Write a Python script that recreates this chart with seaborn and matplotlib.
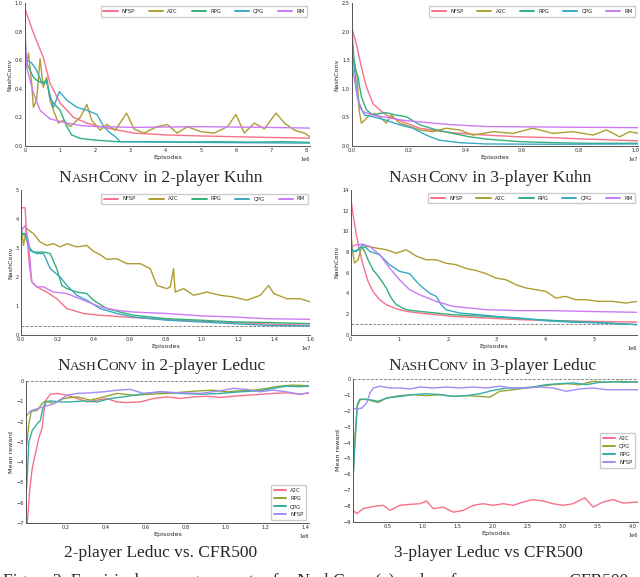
import matplotlib
matplotlib.use("Agg")
import matplotlib.pyplot as plt
from matplotlib.offsetbox import TextArea, HPacker, AnnotationBbox
from matplotlib.ticker import MultipleLocator
import seaborn as sns
import numpy as np
import pandas as pd

# ---------------- 2-player Kuhn NashConv (x in 1e6 episodes) ----------------
k2_nfsp_x = [0, 0.24, 0.52, 0.71, 1.0, 1.38, 1.76, 2.14, 3.10, 4.05, 5.0, 5.95, 6.90, 8.1]
k2_nfsp_y = [0.96, 0.79, 0.62, 0.44, 0.30, 0.20, 0.16, 0.135, 0.09, 0.077, 0.07, 0.065, 0.06, 0.055]
k2_a2c_x = [0, 0.03, 0.10, 0.19, 0.24, 0.33, 0.43, 0.52, 0.62, 0.71, 0.81, 0.95, 1.10, 1.29, 1.57,
            1.76, 1.90, 2.14, 2.33, 2.57, 2.89, 3.10, 3.38, 3.76, 4.05, 4.33, 4.62, 5.0, 5.38, 5.76,
            6.0, 6.24, 6.52, 6.81, 7.14, 7.38, 7.67, 7.95, 8.1]
k2_a2c_y = [0.6, 0.55, 0.65, 0.44, 0.27, 0.32, 0.61, 0.41, 0.48, 0.32, 0.25, 0.16, 0.18, 0.135, 0.20,
            0.29, 0.18, 0.11, 0.15, 0.11, 0.23, 0.12, 0.09, 0.135, 0.15, 0.09, 0.135, 0.10, 0.09, 0.135,
            0.22, 0.09, 0.16, 0.12, 0.23, 0.16, 0.11, 0.09, 0.065]
k2_rpg_x = [0, 0.03, 0.05, 0.24, 0.33, 0.48, 0.62, 0.71, 0.81, 1.0, 1.19, 1.33, 1.57, 1.95, 2.62,
            3.57, 4.52, 5.48, 6.43, 7.38, 8.1]
k2_rpg_y = [0.90, 0.60, 0.58, 0.48, 0.46, 0.44, 0.46, 0.34, 0.30, 0.25, 0.135, 0.077, 0.053, 0.042, 0.03,
            0.03, 0.028, 0.03, 0.027, 0.03, 0.025]
k2_qpg_x = [0, 0.05, 0.19, 0.33, 0.48, 0.62, 0.81, 0.98, 1.19, 1.48, 1.76, 2.05, 2.24, 2.43, 2.57,
            2.71, 3.57, 5.0, 6.90, 8.1]
k2_qpg_y = [0.65, 0.60, 0.58, 0.53, 0.44, 0.44, 0.27, 0.38, 0.32, 0.27, 0.25, 0.22, 0.135, 0.09, 0.065,
            0.03, 0.028, 0.025, 0.022, 0.02]
k2_rm_x = [0, 0.05, 0.24, 0.43, 0.71, 1.19, 1.67, 2.14, 3.10, 5.0, 6.90, 8.1]
k2_rm_y = [0.78, 0.55, 0.37, 0.25, 0.19, 0.16, 0.14, 0.135, 0.13, 0.135, 0.13, 0.125]

# ---------------- 3-player Kuhn NashConv (x in 1e7 episodes) ----------------
k3_nfsp_x = [0, 0.015, 0.033, 0.051, 0.074, 0.098, 0.121, 0.18, 0.239, 0.356, 0.474, 0.592, 0.709, 0.827, 1.01]
k3_nfsp_y = [2.05, 1.79, 1.38, 1.03, 0.74, 0.63, 0.54, 0.42, 0.31, 0.23, 0.19, 0.16, 0.145, 0.12, 0.09]
k3_a2c_x = [0.004, 0.009, 0.018, 0.025, 0.033, 0.045, 0.062, 0.08, 0.104, 0.121, 0.139, 0.168, 0.204,
            0.239, 0.286, 0.333, 0.38, 0.427, 0.498, 0.568, 0.639, 0.709, 0.78, 0.851, 0.898, 0.945,
            0.98, 1.01]
k3_a2c_y = [1.45, 1.47, 1.21, 0.63, 0.40, 0.45, 0.54, 0.57, 0.48, 0.40, 0.54, 0.40, 0.34,
            0.28, 0.25, 0.31, 0.28, 0.19, 0.25, 0.22, 0.31, 0.22, 0.25, 0.19, 0.28, 0.16,
            0.25, 0.22]
k3_rpg_x = [0, 0.009, 0.021, 0.033, 0.051, 0.074, 0.098, 0.121, 0.156, 0.192, 0.239, 0.298, 0.356,
            0.415, 0.474, 0.592, 0.709, 0.827, 1.01]
k3_rpg_y = [2.0, 1.38, 1.21, 0.86, 0.63, 0.54, 0.57, 0.58, 0.54, 0.51, 0.37, 0.28, 0.22,
            0.16, 0.12, 0.076, 0.058, 0.047, 0.047]
k3_qpg_x = [0, 0.007, 0.015, 0.027, 0.045, 0.074, 0.121, 0.168, 0.215, 0.262, 0.309, 0.38, 0.474, 0.709, 1.01]
k3_qpg_y = [1.75, 1.44, 1.03, 0.69, 0.54, 0.51, 0.45, 0.37, 0.31, 0.19, 0.10, 0.058, 0.035, 0.03, 0.035]
k3_rm_x = [0, 0.009, 0.021, 0.039, 0.074, 0.121, 0.18, 0.239, 0.356, 0.474, 0.709, 1.01]
k3_rm_y = [1.45, 1.15, 0.80, 0.60, 0.54, 0.50, 0.45, 0.42, 0.37, 0.34, 0.33, 0.32]

# ---------------- 2-player Leduc NashConv (x in 1e7 episodes) ----------------
l2_nfsp_x = [0, 0.022, 0.031, 0.046, 0.059, 0.087, 0.142, 0.197, 0.253, 0.345, 0.437, 0.622, 0.806,
             0.991, 1.175, 1.36, 1.6]
l2_nfsp_y = [4.4, 4.4, 3.45, 2.41, 1.84, 1.67, 1.49, 1.26, 0.92, 0.75, 0.69, 0.61, 0.54,
             0.48, 0.44, 0.39, 0.34]
l2_a2c_x = [0, 0.013, 0.031, 0.068, 0.105, 0.142, 0.179, 0.216, 0.253, 0.308, 0.363, 0.4, 0.437,
            0.474, 0.53, 0.585, 0.659, 0.714, 0.751, 0.806, 0.825, 0.843, 0.852, 0.899, 0.954, 1.028,
            1.101, 1.175, 1.249, 1.323, 1.369, 1.397, 1.47, 1.544, 1.6]
l2_a2c_y = [3.79, 3.10, 3.68, 3.51, 3.22, 3.10, 3.16, 3.05, 3.16, 3.05, 3.10, 2.90, 2.78,
            2.62, 2.64, 2.47, 2.47, 2.30, 1.72, 1.61, 1.67, 2.30, 1.49, 1.61, 1.38, 1.49,
            1.38, 1.32, 1.21, 1.38, 1.72, 1.44, 1.26, 1.26, 1.15]
l2_rpg_x = [0, 0.022, 0.05, 0.068, 0.124, 0.161, 0.197, 0.225, 0.253, 0.308, 0.363, 0.4, 0.474,
            0.548, 0.622, 0.806, 0.991, 1.175, 1.36, 1.6]
l2_rpg_y = [3.5, 3.51, 2.99, 2.87, 2.87, 2.82, 2.30, 1.72, 1.61, 1.49, 1.44, 1.21, 0.92,
            0.80, 0.69, 0.57, 0.52, 0.46, 0.44, 0.40]
l2_qpg_x = [0, 0.022, 0.05, 0.087, 0.124, 0.161, 0.216, 0.253, 0.308, 0.363, 0.437, 0.53, 0.622,
            0.806, 0.991, 1.175, 1.36, 1.6]
l2_qpg_y = [3.5, 3.45, 2.93, 2.82, 2.82, 2.30, 2.01, 1.72, 1.38, 1.21, 0.92, 0.75, 0.63,
            0.52, 0.46, 0.40, 0.34, 0.32]
l2_rm_x = [0, 0.022, 0.041, 0.059, 0.087, 0.124, 0.179, 0.253, 0.345, 0.437, 0.53, 0.622, 0.806,
           0.991, 1.175, 1.36, 1.6]
l2_rm_y = [3.6, 3.79, 3.22, 1.84, 1.67, 1.67, 1.49, 1.44, 1.21, 0.98, 0.86, 0.80, 0.75,
           0.67, 0.63, 0.57, 0.55]
l2_ref = 0.31

# ---------------- 3-player Leduc NashConv (x in 1e6 episodes) ----------------
l3_nfsp_x = [0, 0.048, 0.116, 0.185, 0.253, 0.356, 0.458, 0.595, 0.732, 0.937, 1.142, 1.416, 2.1,
             2.784, 3.468, 4.152, 4.836, 5.896]
l3_nfsp_y = [13.3, 11.6, 9.66, 8.05, 6.76, 5.15, 4.18, 3.38, 2.90, 2.51, 2.25, 2.09, 1.77,
             1.61, 1.45, 1.35, 1.29, 1.22]
l3_a2c_x = [0, 0.048, 0.082, 0.150, 0.219, 0.356, 0.527, 0.732, 0.937, 1.142, 1.347, 1.553, 1.758,
            1.963, 2.168, 2.373, 2.579, 2.784, 2.989, 3.194, 3.399, 3.605, 3.810, 4.015, 4.220, 4.425,
            4.631, 4.836, 5.109, 5.383, 5.657, 5.896]
l3_a2c_y = [10.0, 7.73, 6.92, 7.24, 8.37, 8.53, 8.37, 8.21, 7.88, 8.21, 7.6, 7.24, 7.24,
            6.9, 6.76, 6.40, 6.20, 5.9, 5.47, 5.31, 4.83, 4.51, 4.35, 4.18, 3.54, 3.70,
            3.38, 3.38, 3.22, 3.22, 3.06, 3.22]
l3_rpg_x = [0, 0.048, 0.116, 0.219, 0.287, 0.356, 0.458, 0.595, 0.732, 0.834, 0.937, 1.142, 1.416,
            2.1, 2.784, 3.468, 4.152, 4.836, 5.896]
l3_rpg_y = [8.5, 8.05, 8.05, 8.53, 8.05, 7.24, 6.28, 5.47, 4.51, 3.54, 2.90, 2.41, 2.25,
            1.93, 1.77, 1.55, 1.38, 1.22, 0.97]
l3_qpg_x = [0, 0.048, 0.150, 0.253, 0.390, 0.595, 0.800, 1.005, 1.211, 1.416, 1.621, 1.758, 1.860,
            1.963, 2.237, 2.647, 2.989, 3.468, 4.015, 4.494, 5.178, 5.896]
l3_qpg_y = [8.2, 8.05, 8.21, 8.69, 8.05, 7.73, 6.76, 6.12, 5.9, 4.8, 4.02, 3.70, 2.90,
            2.41, 2.09, 1.93, 1.77, 1.61, 1.35, 1.22, 1.13, 0.97]
l3_rm_x = [0, 0.116, 0.253, 0.390, 0.595, 0.800, 1.005, 1.211, 1.416, 1.758, 2.1, 2.784, 3.468,
           4.152, 4.836, 5.896]
l3_rm_y = [8.5, 8.69, 8.75, 8.53, 7.73, 6.44, 5.3, 4.35, 3.86, 3.22, 2.74, 2.41, 2.32,
           2.32, 2.25, 2.16]
l3_ref = 1.03

# ---------------- 2-player Leduc vs CFR500 (x in 1e6 episodes) ----------------
c2_a2c_x = [0.009, 0.022, 0.034, 0.067, 0.084, 0.092, 0.105, 0.125, 0.158, 0.208, 0.258, 0.308, 0.358,
            0.407, 0.457, 0.507, 0.573, 0.64, 0.706, 0.772, 0.839, 0.905, 0.972, 1.038, 1.104,
            1.171, 1.237, 1.304, 1.37, 1.416]
c2_a2c_y = [-7.0, -5.3, -4.3, -2.8, -2.3, -1.5, -0.9, -0.65, -0.61, -0.70, -0.86, -1.03, -0.94,
            -0.86, -1.03, -1.06, -1.03, -0.86, -0.78, -0.86, -0.78, -0.75, -0.81, -0.75, -0.70,
            -0.66, -0.61, -0.58, -0.65, -0.58]
c2_rpg_x = [0.006, 0.017, 0.029, 0.059, 0.084, 0.1, 0.142, 0.191, 0.258, 0.324, 0.391, 0.457, 0.54,
            0.623, 0.706, 0.806, 0.872, 0.939, 1.005, 1.071, 1.138, 1.204, 1.27, 1.337, 1.416]
c2_rpg_y = [-3.2, -2.1, -1.5, -1.44, -1.1, -0.98, -1.11, -0.86, -0.78, -0.94, -0.78, -0.61, -0.70,
            -0.65, -0.61, -0.53, -0.48, -0.45, -0.53, -0.48, -0.45, -0.36, -0.25, -0.20, -0.23]
c2_qpg_x = [0.006, 0.017, 0.034, 0.059, 0.075, 0.084, 0.1, 0.125, 0.175, 0.225, 0.291, 0.358, 0.424,
            0.49, 0.573, 0.673, 0.772, 0.872, 0.972, 1.071, 1.171, 1.237, 1.304, 1.37, 1.416]
c2_qpg_y = [-5.3, -3.01, -2.43, -2.10, -1.94, -1.44, -1.03, -0.98, -1.03, -1.03, -0.98, -1.03, -0.86,
            -0.78, -0.65, -0.53, -0.61, -0.65, -0.61, -0.53, -0.48, -0.36, -0.25, -0.28, -0.25]
c2_nfsp_x = [0.006, 0.026, 0.059, 0.092, 0.142, 0.208, 0.258, 0.324, 0.391, 0.457, 0.523, 0.59, 0.673,
             0.772, 0.872, 0.972, 1.038, 1.104, 1.171, 1.237, 1.304, 1.37, 1.416]
c2_nfsp_y = [-1.7, -1.47, -1.36, -1.27, -1.11, -0.70, -0.61, -0.58, -0.53, -0.45, -0.41, -0.61, -0.53,
             -0.58, -0.61, -0.48, -0.36, -0.41, -0.53, -0.45, -0.53, -0.65, -0.58]

# ---------------- 3-player Leduc vs CFR500 (x in 1e6 episodes) ----------------
c3_a2c_x = [0.011, 0.058, 0.153, 0.296, 0.438, 0.533, 0.676, 0.818, 0.961, 1.056, 1.151, 1.293, 1.436,
            1.578, 1.721, 1.863, 2.006, 2.148, 2.29, 2.433, 2.575, 2.718, 2.86, 3.003, 3.145, 3.311,
            3.43, 3.572, 3.715, 3.857, 4.071]
c3_a2c_y = [-8.27, -8.48, -8.16, -8.02, -7.95, -8.27, -7.95, -7.89, -7.85, -7.68, -8.16, -8.06, -8.38,
            -8.27, -7.95, -7.85, -7.95, -7.85, -7.95, -7.74, -7.59, -7.68, -7.85, -7.95, -7.85, -7.47,
            -8.06, -7.74, -7.59, -7.81, -7.74]
c3_qpg_x = [0.011, 0.035, 0.068, 0.106, 0.201, 0.296, 0.367, 0.486, 0.676, 0.866, 1.056, 1.246, 1.436,
            1.625, 1.815, 1.958, 2.1, 2.29, 2.48, 2.67, 2.86, 3.05, 3.24, 3.43, 3.62, 3.81, 4.071]
c3_qpg_y = [-6.0, -3.63, -1.73, -1.31, -1.27, -1.41, -1.48, -1.20, -1.05, -0.99, -1.05, -0.99, -1.10,
            -1.05, -1.10, -1.14, -0.78, -0.68, -0.57, -0.46, -0.36, -0.30, -0.36, -0.15, -0.21, -0.15, -0.21]
c3_rpg_x = [0.011, 0.035, 0.068, 0.106, 0.249, 0.367, 0.486, 0.676, 0.866, 1.056, 1.246, 1.436, 1.625,
            1.815, 2.006, 2.195, 2.385, 2.575, 2.765, 2.955, 3.145, 3.335, 3.525, 3.715, 3.905, 4.071]
c3_rpg_y = [-6.0, -4.05, -1.62, -1.27, -1.31, -1.41, -1.20, -1.10, -0.99, -0.93, -0.99, -1.10, -1.05,
            -0.93, -0.72, -0.57, -0.57, -0.51, -0.36, -0.30, -0.25, -0.36, -0.21, -0.19, -0.21, -0.17]
c3_nfsp_x = [0.011, 0.058, 0.13, 0.201, 0.249, 0.296, 0.391, 0.533, 0.676, 0.818, 0.961, 1.151, 1.341,
             1.531, 1.721, 1.91, 2.1, 2.29, 2.48, 2.67, 2.86, 3.05, 3.24, 3.43, 3.62, 3.81, 4.071]
c3_nfsp_y = [-1.85, -1.90, -1.84, -1.52, -0.89, -0.57, -0.46, -0.57, -0.57, -0.63, -0.51, -0.57, -0.51,
             -0.57, -0.51, -0.57, -0.46, -0.57, -0.57, -0.51, -0.57, -0.78, -0.63, -0.57, -0.68, -0.68, -0.68]

sns.set_style("white")
plt.rcParams['font.family'] = ['DejaVu Sans']

pal5 = sns.color_palette("husl", 5)
pal4 = sns.color_palette("husl", 4)

fig = plt.figure(figsize=(6.4, 5.77), dpi=100)


def to_frame(series, scale):
    rows = []
    for name, xs, ys in series:
        for x, y in zip(xs, ys):
            rows.append((name, x * scale, y))
    return pd.DataFrame(rows, columns=['algo', 'episodes', 'value'])


def style_axes(ax, ylabel):
    for s in ['top', 'right']:
        ax.spines[s].set_visible(False)
    for s in ['left', 'bottom']:
        ax.spines[s].set_color('#555555')
        ax.spines[s].set_linewidth(0.7)
    ax.tick_params(labelsize=3.6, pad=1.5, length=0)
    ax.xaxis.get_offset_text().set_fontsize(3.6)
    ax.set_xlabel('Episodes', fontsize=4.6, labelpad=1.5)
    ax.set_ylabel(ylabel, fontsize=4.6, labelpad=2)


def draw(rect, series, scale, colors, xlim, ylim, xstep, ystep, ylabel, legend_kw, ref=None):
    ax = fig.add_axes(rect)
    df = to_frame(series, scale)
    names = [s[0] for s in series]
    if ref is not None:
        ax.axhline(ref, color='#888888', lw=0.7, ls=(0, (3, 1.5)), zorder=1)
    sns.lineplot(data=df, x='episodes', y='value', hue='algo', hue_order=names,
                 palette=colors, estimator=None, sort=True, linewidth=1.0, ax=ax, legend=True)
    ax.set_xlim(xlim[0] * scale, xlim[1] * scale)
    ax.set_ylim(*ylim)
    ax.xaxis.set_major_locator(MultipleLocator(xstep * scale))
    ax.yaxis.set_major_locator(MultipleLocator(ystep))
    style_axes(ax, ylabel)
    handles, labels = ax.get_legend_handles_labels()
    ax.legend(handles, labels, fontsize=3.8, frameon=True, fancybox=True, edgecolor='#cccccc',
              framealpha=1.0, **legend_kw)
    for line in ax.get_legend().get_lines():
        line.set_linewidth(1.4)
    return ax


top_leg = dict(loc='upper right', ncol=5, handlelength=2.7, columnspacing=2.6,
               borderpad=0.5, bbox_to_anchor=(1.0, 0.995))

draw([0.039, 0.747, 0.445, 0.248],
     [('NFSP', k2_nfsp_x, k2_nfsp_y), ('A2C', k2_a2c_x, k2_a2c_y), ('RPG', k2_rpg_x, k2_rpg_y),
      ('QPG', k2_qpg_x, k2_qpg_y), ('RM', k2_rm_x, k2_rm_y)],
     1e6, pal5, (0, 8.1), (0, 1.0), 1, 0.2, 'NashConv', top_leg)

draw([0.55, 0.747, 0.447, 0.248],
     [('NFSP', k3_nfsp_x, k3_nfsp_y), ('A2C', k3_a2c_x, k3_a2c_y), ('RPG', k3_rpg_x, k3_rpg_y),
      ('QPG', k3_qpg_x, k3_qpg_y), ('RM', k3_rm_x, k3_rm_y)],
     1e7, pal5, (0, 1.01), (0, 2.5), 0.2, 0.5, 'NashConv', top_leg)

draw([0.033, 0.419, 0.452, 0.251],
     [('NFSP', l2_nfsp_x, l2_nfsp_y), ('A2C', l2_a2c_x, l2_a2c_y), ('RPG', l2_rpg_x, l2_rpg_y),
      ('QPG', l2_qpg_x, l2_qpg_y), ('RM', l2_rm_x, l2_rm_y)],
     1e7, pal5, (0, 1.6), (0, 5), 0.2, 1, 'NashConv', top_leg, ref=l2_ref)

draw([0.548, 0.42, 0.448, 0.251],
     [('NFSP', l3_nfsp_x, l3_nfsp_y), ('A2C', l3_a2c_x, l3_a2c_y), ('RPG', l3_rpg_x, l3_rpg_y),
      ('QPG', l3_qpg_x, l3_qpg_y), ('RM', l3_rm_x, l3_rm_y)],
     1e6, pal5, (0, 5.9), (0, 14), 1, 2, 'NashConv', top_leg, ref=l3_ref)

draw([0.041, 0.0936, 0.442, 0.246],
     [('A2C', c2_a2c_x, c2_a2c_y), ('RPG', c2_rpg_x, c2_rpg_y), ('QPG', c2_qpg_x, c2_qpg_y),
      ('NFSP', c2_nfsp_x, c2_nfsp_y)],
     1e6, pal4, (0.004, 1.416), (-7, 0), 0.2, 1, 'Mean reward',
     dict(loc='lower right', handlelength=2.2, borderpad=0.6, labelspacing=0.6), ref=0)

draw([0.552, 0.0953, 0.445, 0.248],
     [('A2C', c3_a2c_x, c3_a2c_y), ('QPG', c3_qpg_x, c3_qpg_y), ('RPG', c3_rpg_x, c3_rpg_y),
      ('NFSP', c3_nfsp_x, c3_nfsp_y)],
     1e6, pal4, (0.011, 4.071), (-9, 0), 0.5, 1, 'Mean reward',
     dict(loc='center right', handlelength=2.2, borderpad=0.6, labelspacing=0.6), ref=0)


# ---------------- sub-captions ----------------
SERIF = 'Liberation Serif'


def nashconv_title(xc, yc, rest, big=12.5, small=9.6):
    parts = [('N', big), ('ASH', small), ('C', big), ('ONV', small), (rest, big)]
    boxes = [TextArea(t, textprops=dict(fontsize=s, family=SERIF)) for t, s in parts]
    pack = HPacker(children=boxes, align='baseline', pad=0, sep=0)
    ab = AnnotationBbox(pack, (xc, yc), xycoords='figure fraction', frameon=False,
                        box_alignment=(0.5, 0.5), pad=0)
    fig.add_artist(ab)


nashconv_title(0.251, 0.692, ' in 2-player Kuhn')
nashconv_title(0.766, 0.692, ' in 3-player Kuhn')
nashconv_title(0.2516, 0.366, ' in 2-player Leduc')
nashconv_title(0.769, 0.366, ' in 3-player Leduc')
fig.text(0.2516, 0.042, '2-player Leduc vs. CFR500', fontsize=12.5, family=SERIF,
         ha='center', va='center')
fig.text(0.763, 0.042, '3-player Leduc vs CFR500', fontsize=12.5, family=SERIF,
         ha='center', va='center')

# figure caption: only its top edge shows at the bottom of the picture, as in the page crop
fig.text(0.005, -0.014, 'Figure 2: Empirical convergence rates for NashConv (a) and performance versus CFR500',
         fontsize=12.5, family=SERIF, ha='left', va='baseline')

fig.savefig('out.png', dpi=100)
